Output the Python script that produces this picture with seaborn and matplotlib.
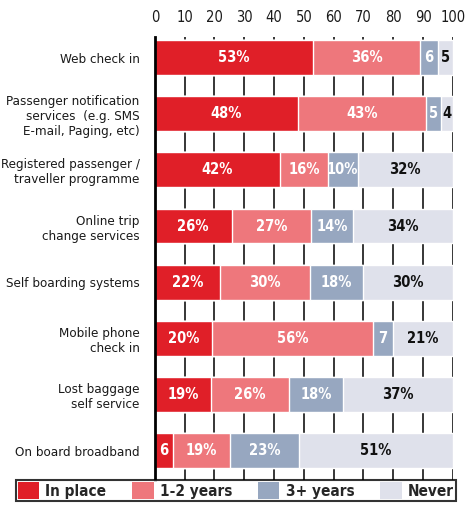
import numpy as np
import pandas as pd
import matplotlib
matplotlib.use("Agg")
import matplotlib.pyplot as plt
import seaborn as sns
from matplotlib.patches import Patch

categories = [
    "Web check in",
    "Passenger notification\nservices  (e.g. SMS\nE-mail, Paging, etc)",
    "Registered passenger /\ntraveller programme",
    "Online trip\nchange services",
    "Self boarding systems",
    "Mobile phone\ncheck in",
    "Lost baggage\nself service",
    "On board broadband",
]
in_place = [53, 48, 42, 26, 22, 20, 19, 6]
one_two_years = [36, 43, 16, 27, 30, 56, 26, 19]
three_plus_years = [6, 5, 10, 14, 18, 7, 18, 23]
never = [5, 4, 32, 34, 30, 21, 37, 51]

series = ["In place", "1-2 years", "3+ years", "Never"]
colors = ["#E01F28", "#EE777C", "#97A7C0", "#DFE1EB"]
text_colors = ["white", "white", "white", "#111111"]

sns.set_theme(style="white")
plt.rcParams["font.family"] = ["DejaVu Sans"]
plt.rcParams["font.stretch"] = "condensed"

vals = np.array([in_place, one_two_years, three_plus_years, never], dtype=float)
# the chart scales each row to a full 100 %
shares = vals / vals.sum(axis=0) * 100
cum = shares.cumsum(axis=0)

fig = plt.figure(figsize=(4.65, 5.09), dpi=100)
ax = fig.add_axes([0.333, 0.057, 0.641, 0.87])

for xx in range(0, 101, 10):
    ax.axvline(xx, color="black", lw=1.1, zorder=0)

for i in range(3, -1, -1):
    df = pd.DataFrame({"cat": categories, "val": cum[i]})
    sns.barplot(data=df, x="val", y="cat", color=colors[i], orient="h",
                width=0.62, saturation=1, ax=ax, zorder=2)

for i in range(4):
    for j in range(len(categories)):
        v = vals[i, j]
        txt = f"{v:.0f}%" if v >= 10 else f"{v:.0f}"
        xc = cum[i, j] - shares[i, j] / 2
        ax.text(xc, j, txt, ha="center", va="center", color=text_colors[i],
                fontsize=10.5, fontweight="bold", zorder=3)

ax.set_xlim(0, 100)
ax.set_ylim(7.525, -0.365)
ax.set_xticks(range(0, 101, 10))
ax.xaxis.tick_top()
ax.tick_params(axis="x", length=0, pad=9, labelsize=10.5, labelcolor="#1a1a1a")
ax.tick_params(axis="y", length=0, pad=11, labelsize=9.6, labelcolor="#1a1a1a")
ax.set_xlabel("")
ax.set_ylabel("")
for s in ["top", "right", "bottom"]:
    ax.spines[s].set_visible(False)
ax.spines["left"].set_color("black")
ax.spines["left"].set_linewidth(2)
ax.spines["left"].set_zorder(4)

handles = [Patch(facecolor=c, edgecolor="none") for c in colors]
leg = fig.legend(handles, series, loc="lower left", ncol=4, mode="expand",
                 bbox_to_anchor=(0.017, 0.0, 0.98, 0.043), frameon=True,
                 fancybox=False, borderpad=0.15, handlelength=1.4,
                 handleheight=1.3, handletextpad=0.4,
                 prop={"weight": "bold", "size": 11})
leg.get_frame().set_edgecolor("black")
leg.get_frame().set_linewidth(1.5)

fig.savefig("out.png", dpi=100)
